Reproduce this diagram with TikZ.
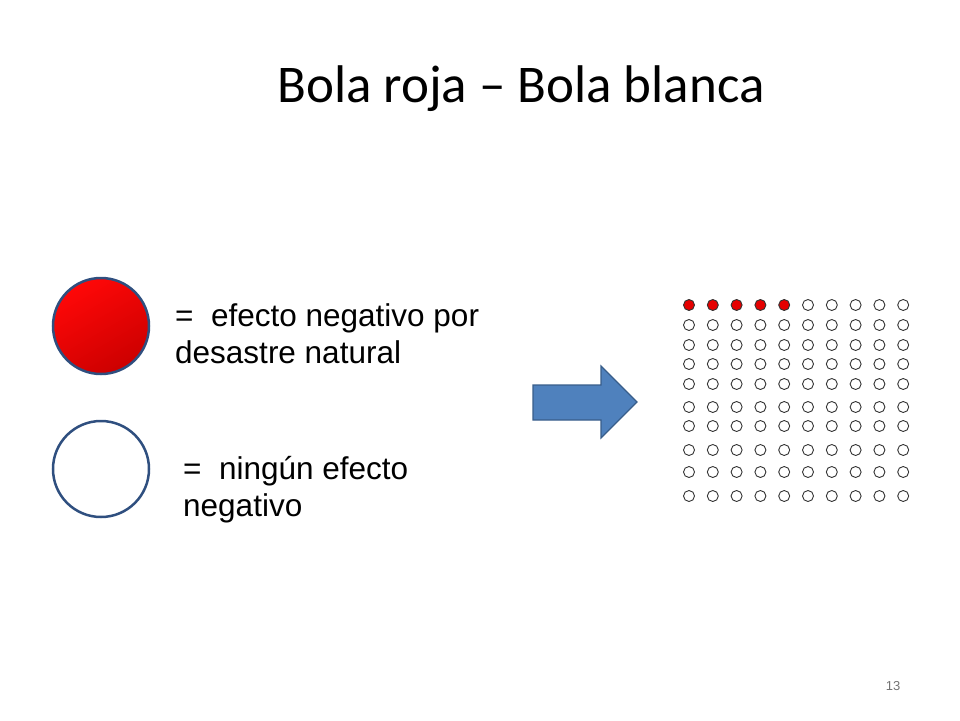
\documentclass[tikz,border=0pt]{standalone}
\usepackage{fontspec}
\setmainfont{Liberation Sans}
\newfontfamily\titlefont{Carlito}
\begin{document}
\begin{tikzpicture}[x=1pt,y=-1pt,
  big/.style={draw=rimblue,line width=2.5pt},
  dot/.style={draw=black!80,line width=0.9pt},
  lbl/.style={anchor=north west,align=left,font=\fontsize{31.5}{37}\selectfont,inner sep=0pt}]
\definecolor{rimblue}{HTML}{2F4F7F}
\definecolor{arrfill}{HTML}{4F81BD}
\definecolor{arredge}{HTML}{385D8A}
\useasboundingbox (0,0) rectangle (960,720);
\node[font=\titlefont\fontsize{53}{60}\selectfont] (title) at (521,89) {Bola roja – Bola blanca};
\shade[top color=red!97!white,bottom color=red!80!black,shading angle=30] (101,326) circle (48);
\draw[big] (101,326) circle (48);
\coordinate (red) at (101,326);
\draw[big,fill=white] (101,469) circle (48);
\coordinate (white) at (101,469);
\node[lbl] (t1) at (175,303) {=\ \ efecto negativo por\\desastre natural};
\node[lbl] (t2) at (183,456) {=\ \ ningún efecto\\negativo};
\draw[fill=arrfill,draw=arredge,line width=1.2pt] (533,385) -- (601,385) -- (601,366) -- (637,402) -- (601,438) -- (601,420) -- (533,420) -- cycle;
\foreach \y [count=\r] in {305,325,345,364,384,407,426,450,472,496}{
  \foreach \c in {1,...,10}{
    \pgfmathsetmacro{\xx}{689+(\c-1)*23.8}
    \ifnum\r=1 \ifnum\c<6
      \draw[dot,fill=red!90!black] (\xx,\y) circle (5.5);
    \else \draw[dot] (\xx,\y) circle (5.5); \fi
    \else \draw[dot] (\xx,\y) circle (5.5); \fi
  }
}
\node[font=\fontsize{13}{15}\selectfont,text=black!55] (pg) at (893,686) {13};
\end{tikzpicture}
\end{document}
